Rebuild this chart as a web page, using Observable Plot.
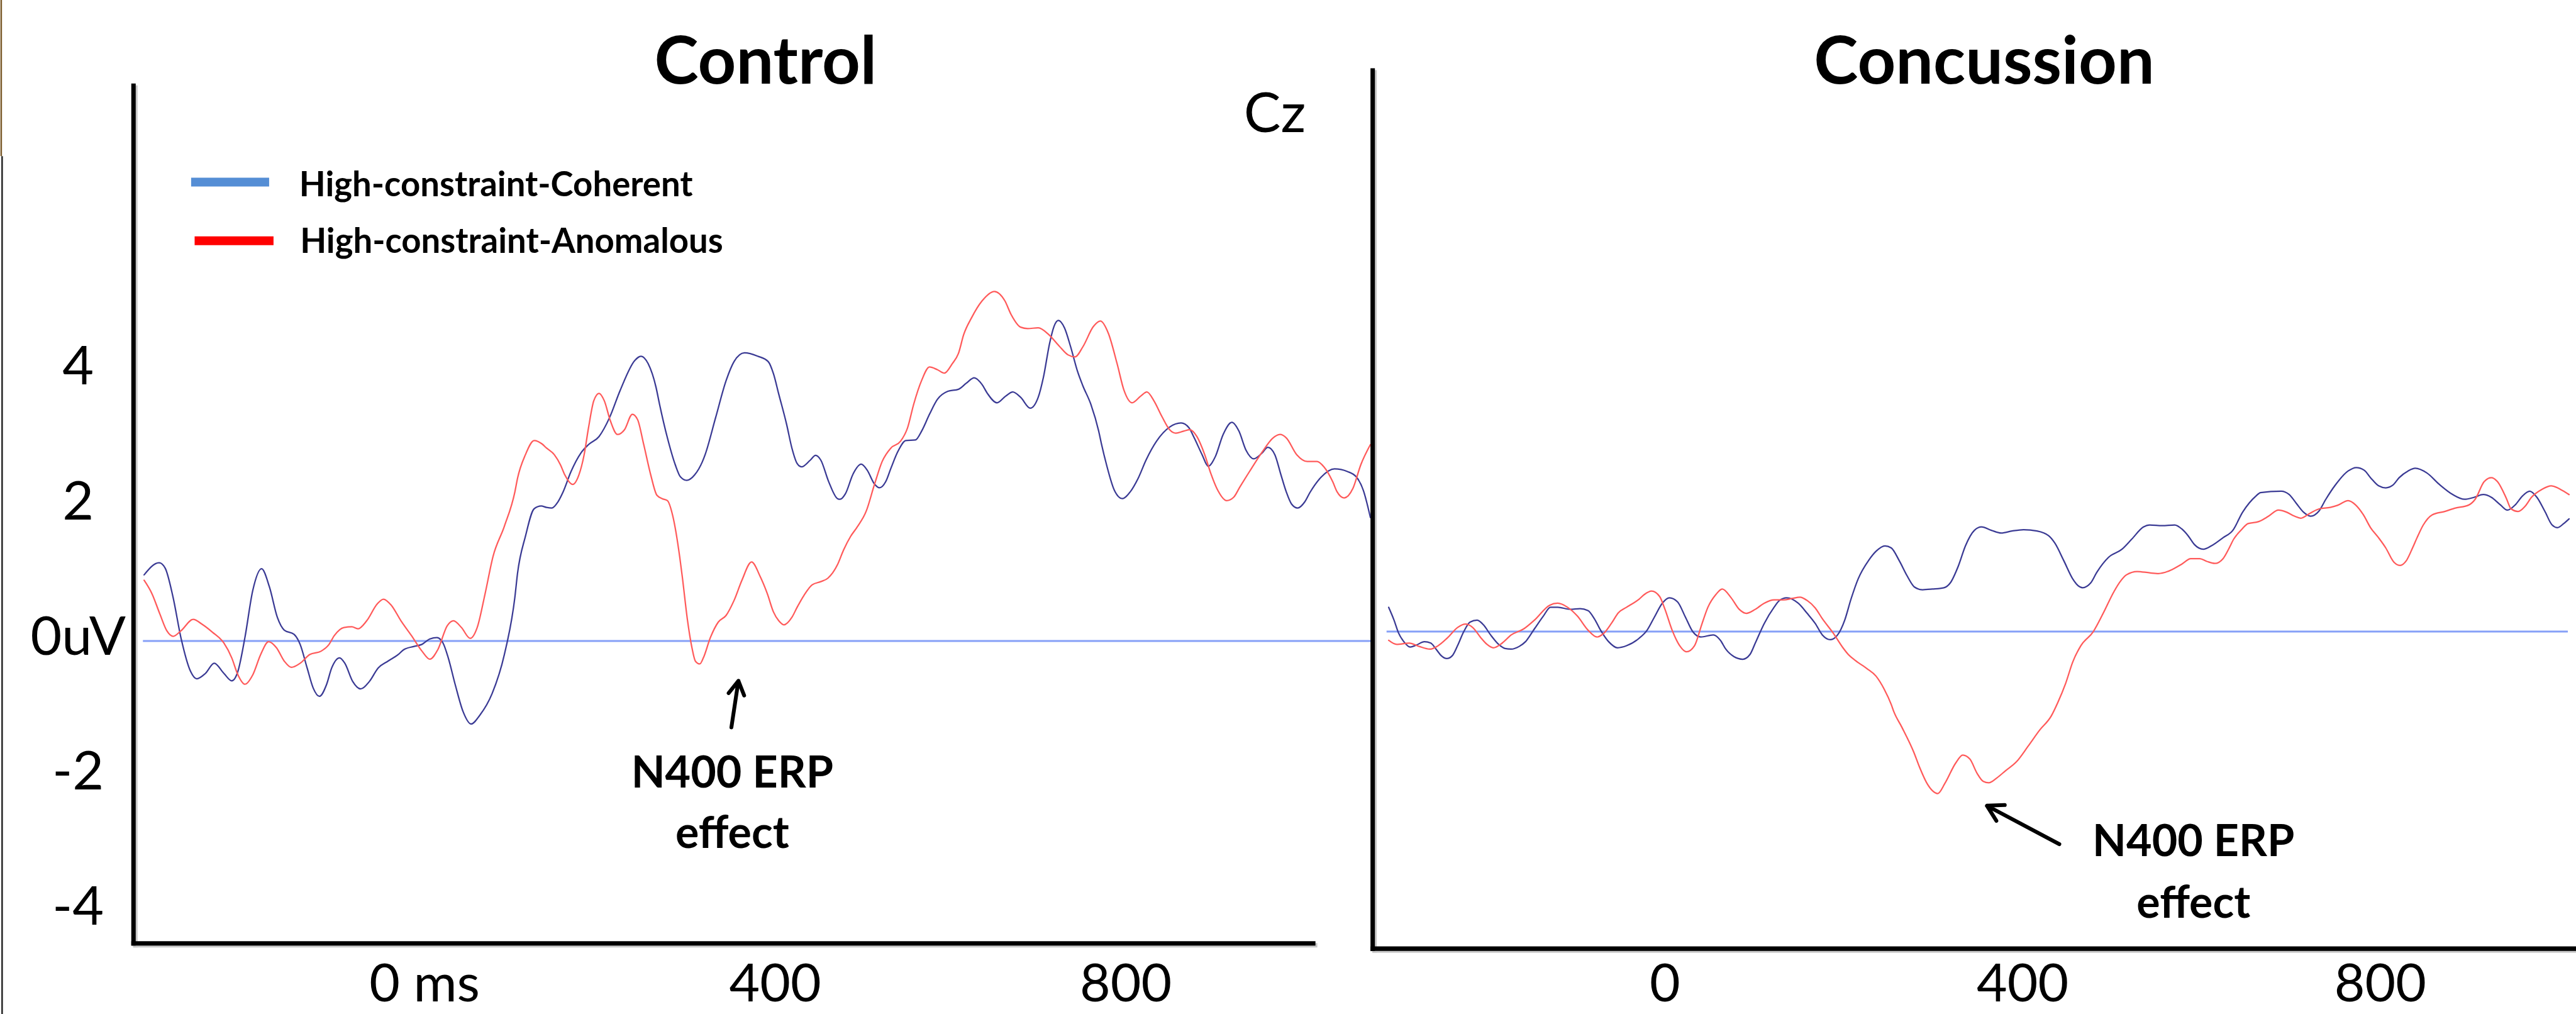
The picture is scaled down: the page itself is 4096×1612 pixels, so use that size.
<!DOCTYPE html>
<html><head><meta charset="utf-8">
<script src="https://cdn.jsdelivr.net/npm/d3@7"></script>
<script src="https://cdn.jsdelivr.net/npm/@observablehq/plot@0.6"></script>
<style>
html,body{margin:0;padding:0;background:#fff;}
#wrap{position:relative;width:4096px;height:1612px;overflow:hidden;background:#fff;}
#wrap > svg{position:absolute;top:0;}
</style></head><body><div id="wrap"></div>
<script>
// ---------- data (time in ms, amplitude in µV) ----------
const seriesNames = ["High-constraint-Coherent", "High-constraint-Anomalous"];
const lineColors = ["#3a3a94", "#ff5a5a"];
const legendColors = ["#558ed5", "#ff0000"];
const panelTitles = ["Control", "Concussion"];
const electrode = "Cz";
const annotationLines = ["N400 ERP", "effect"];
const yTicks = [4, 2, 0, -2, -4];
const xTicks = [0, 400, 800];

const controlCoherent = [[-320,0.98],[-303,1.16],[-296,1.08],[-287,0.65],[-278,0.05],[-267,-0.45],[-260,-0.56],[-250,-0.48],[-240,-0.33],[-229,-0.48],[-220,-0.59],[-213,-0.45],[-205,0.05],[-196,0.75],[-186,1.07],[-177,0.80],[-168,0.35],[-160,0.16],[-149,0.10],[-142,-0.05],[-134,-0.40],[-127,-0.70],[-120,-0.82],[-112,-0.65],[-106,-0.40],[-97,-0.25],[-91,-0.33],[-82,-0.60],[-73,-0.71],[-63,-0.60],[-53,-0.40],[-42,-0.30],[-30,-0.20],[-24,-0.13],[-12,-0.08],[-3,-0.05],[6,0.03],[14,0.05],[21,-0.03],[27,-0.25],[35,-0.65],[44,-1.05],[53,-1.23],[63,-1.10],[77,-0.78],[91,-0.20],[103,0.65],[106,1.00],[115,1.55],[125,1.96],[133,2.00],[139,1.98],[145,1.97],[152,2.06],[158,2.21],[167,2.51],[178,2.78],[187,2.91],[199,3.03],[211,3.31],[223,3.71],[240,4.16],[247,4.22],[255,4.11],[264,3.76],[268,3.51],[277,3.01],[286,2.61],[292,2.43],[299,2.38],[308,2.46],[317,2.66],[320,2.76],[332,3.31],[344,3.86],[353,4.14],[365,4.27],[380,4.22],[392,4.14],[398,3.96],[404,3.66],[413,3.21],[419,2.86],[425,2.63],[430,2.58],[440,2.68],[446,2.75],[452,2.68],[461,2.36],[471,2.11],[474,2.10],[480,2.18],[489,2.48],[498,2.62],[505,2.53],[513,2.33],[519,2.27],[526,2.36],[532,2.56],[540,2.81],[549,2.97],[560,2.98],[567,3.11],[576,3.36],[585,3.58],[597,3.70],[609,3.73],[618,3.82],[627,3.90],[636,3.80],[642,3.67],[653,3.53],[663,3.63],[671,3.69],[680,3.61],[691,3.45],[700,3.61],[706,3.91],[713,4.41],[718,4.66],[723,4.75],[730,4.64],[737,4.36],[745,3.99],[751,3.78],[760,3.51],[769,3.11],[772,2.93],[778,2.61],[787,2.23],[796,2.11],[805,2.21],[814,2.41],[823,2.68],[835,2.96],[850,3.17],[863,3.23],[872,3.16],[878,3.01],[887,2.76],[894,2.59],[902,2.73],[911,3.06],[921,3.24],[929,3.11],[937,2.83],[946,2.70],[955,2.78],[962,2.87],[970,2.76],[977,2.46],[983,2.21],[989,2.03],[996,1.97],[1004,2.06],[1010,2.20],[1023,2.43],[1038,2.55],[1053,2.51],[1063,2.43],[1071,2.23],[1079,1.83]];

const controlAnomalous = [[-320,0.90],[-311,0.70],[-302,0.40],[-294,0.15],[-287,0.07],[-278,0.15],[-264,0.32],[-254,0.25],[-242,0.13],[-229,-0.03],[-220,-0.25],[-213,-0.50],[-205,-0.64],[-196,-0.50],[-187,-0.20],[-178,-0.01],[-169,-0.10],[-160,-0.30],[-152,-0.39],[-142,-0.33],[-131,-0.20],[-118,-0.15],[-109,-0.05],[-103,0.08],[-92,0.20],[-83,0.21],[-76,0.18],[-66,0.30],[-54,0.55],[-47,0.62],[-38,0.53],[-27,0.30],[-15,0.08],[-3,-0.15],[6,-0.27],[15,-0.13],[26,0.23],[33,0.30],[42,0.20],[52,0.04],[60,0.20],[69,0.70],[78,1.25],[91,1.70],[103,2.21],[106,2.41],[115,2.76],[125,2.97],[134,2.92],[139,2.86],[148,2.76],[155,2.61],[160,2.46],[169,2.32],[176,2.46],[182,2.76],[187,3.16],[193,3.56],[199,3.67],[205,3.56],[212,3.26],[220,3.06],[228,3.13],[237,3.36],[243,3.28],[250,2.91],[258,2.46],[265,2.16],[271,2.11],[277,2.08],[283,1.86],[291,1.25],[294,0.95],[300,0.30],[305,-0.10],[309,-0.30],[314,-0.34],[318,-0.25],[326,0.05],[335,0.28],[344,0.38],[353,0.60],[362,0.90],[373,1.17],[383,0.95],[391,0.70],[398,0.43],[404,0.30],[410,0.24],[419,0.35],[425,0.50],[433,0.68],[442,0.83],[452,0.88],[460,0.93],[471,1.13],[478,1.35],[486,1.55],[493,1.68],[504,1.93],[513,2.31],[522,2.66],[532,2.86],[543,2.96],[551,3.16],[558,3.51],[567,3.86],[576,4.06],[585,4.02],[593,3.97],[602,4.11],[609,4.26],[615,4.54],[624,4.79],[636,5.04],[650,5.18],[662,5.04],[669,4.84],[680,4.65],[688,4.63],[700,4.64],[712,4.54],[724,4.37],[734,4.24],[742,4.21],[751,4.36],[763,4.66],[771,4.74],[780,4.56],[790,4.11],[798,3.71],[807,3.53],[817,3.63],[824,3.69],[832,3.56],[841,3.33],[850,3.13],[857,3.08],[866,3.11],[873,3.13],[881,3.03],[890,2.76],[897,2.48],[905,2.23],[915,2.08],[923,2.13],[930,2.28],[941,2.51],[956,2.81],[968,3.01],[976,3.06],[983,3.01],[995,2.76],[1007,2.66],[1018,2.66],[1026,2.58],[1036,2.36],[1041,2.21],[1049,2.12],[1059,2.26],[1068,2.61],[1079,2.91]];

const concussionCoherent = [[-309,0.36],[-303,0.17],[-298,-0.02],[-292,-0.15],[-285,-0.23],[-278,-0.20],[-269,-0.15],[-262,-0.17],[-256,-0.26],[-250,-0.36],[-244,-0.40],[-238,-0.36],[-232,-0.21],[-225,0.00],[-218,0.14],[-210,0.17],[-203,0.10],[-195,-0.05],[-186,-0.19],[-179,-0.25],[-172,-0.26],[-163,-0.22],[-156,-0.15],[-146,0.04],[-136,0.23],[-128,0.36],[-120,0.36],[-106,0.33],[-95,0.34],[-86,0.31],[-79,0.19],[-72,0.02],[-63,-0.15],[-53,-0.24],[-43,-0.21],[-29,-0.10],[-20,0.02],[-12,0.21],[-3,0.42],[5,0.50],[14,0.44],[23,0.21],[31,0.00],[40,-0.08],[54,-0.05],[62,-0.13],[68,-0.26],[77,-0.37],[87,-0.41],[95,-0.34],[101,-0.17],[111,0.12],[122,0.36],[128,0.46],[136,0.50],[149,0.42],[159,0.27],[168,0.12],[176,-0.05],[185,-0.12],[193,-0.05],[201,0.17],[208,0.48],[216,0.78],[228,1.06],[236,1.19],[246,1.27],[253,1.24],[262,1.05],[271,0.82],[279,0.66],[288,0.62],[299,0.63],[312,0.65],[319,0.72],[328,0.97],[336,1.27],[346,1.50],[354,1.55],[365,1.50],[376,1.46],[388,1.49],[401,1.51],[416,1.49],[429,1.42],[436,1.31],[446,1.05],[456,0.78],[462,0.68],[467,0.65],[476,0.72],[483,0.88],[496,1.10],[511,1.22],[522,1.37],[535,1.55],[542,1.58],[556,1.57],[570,1.58],[578,1.52],[585,1.42],[592,1.29],[602,1.22],[611,1.27],[624,1.39],[635,1.50],[646,1.77],[661,2.01],[666,2.06],[689,2.08],[698,2.03],[706,1.90],[714,1.77],[722,1.71],[731,1.78],[739,1.96],[749,2.16],[764,2.38],[773,2.43],[782,2.39],[789,2.28],[798,2.16],[806,2.13],[814,2.17],[821,2.28],[831,2.38],[839,2.42],[852,2.35],[866,2.18],[881,2.03],[894,1.96],[905,1.99],[915,2.03],[924,1.99],[934,1.88],[942,1.80],[951,1.88],[959,2.01],[967,2.08],[975,1.99],[984,1.78],[992,1.58],[998,1.54],[1005,1.60],[1011,1.67]];

const concussionAnomalous = [[-309,-0.13],[-300,-0.19],[-286,-0.17],[-275,-0.22],[-263,-0.26],[-255,-0.22],[-243,-0.09],[-232,0.06],[-223,0.11],[-215,0.06],[-206,-0.09],[-199,-0.19],[-192,-0.24],[-182,-0.17],[-172,-0.05],[-158,0.04],[-146,0.17],[-129,0.39],[-120,0.42],[-109,0.36],[-98,0.23],[-86,0.02],[-76,-0.08],[-68,-0.02],[-60,0.12],[-52,0.28],[-43,0.36],[-29,0.48],[-23,0.55],[-15,0.60],[-6,0.52],[0,0.33],[8,0.02],[17,-0.22],[24,-0.30],[33,-0.21],[41,0.10],[48,0.36],[57,0.55],[64,0.63],[74,0.50],[83,0.33],[91,0.27],[101,0.33],[111,0.42],[122,0.47],[133,0.47],[142,0.49],[151,0.51],[159,0.46],[168,0.35],[176,0.19],[188,-0.02],[199,-0.24],[205,-0.34],[213,-0.43],[226,-0.55],[236,-0.66],[245,-0.85],[253,-1.08],[256,-1.19],[265,-1.42],[278,-1.78],[285,-2.02],[293,-2.25],[305,-2.40],[313,-2.25],[325,-1.95],[333,-1.83],[341,-1.89],[349,-2.10],[356,-2.22],[362,-2.24],[371,-2.17],[381,-2.06],[393,-1.93],[406,-1.70],[419,-1.46],[432,-1.25],[439,-1.06],[448,-0.77],[456,-0.45],[465,-0.21],[479,0.00],[490,0.27],[502,0.59],[509,0.74],[516,0.84],[528,0.89],[542,0.87],[552,0.86],[562,0.89],[570,0.94],[578,1.00],[588,1.08],[598,1.08],[606,1.04],[615,1.01],[624,1.08],[631,1.24],[636,1.37],[644,1.50],[652,1.60],[664,1.63],[675,1.71],[686,1.80],[695,1.77],[704,1.71],[711,1.68],[721,1.75],[732,1.82],[744,1.84],[752,1.87],[764,1.94],[772,1.88],[781,1.73],[789,1.54],[798,1.39],[806,1.24],[815,1.03],[822,0.98],[829,1.05],[836,1.24],[841,1.39],[848,1.58],[858,1.73],[872,1.78],[884,1.83],[898,1.87],[906,1.96],[916,2.22],[924,2.28],[931,2.22],[941,1.97],[946,1.82],[954,1.78],[962,1.86],[969,1.99],[981,2.11],[991,2.16],[1001,2.11],[1011,2.03]];

// ---------- layout ----------
const S = 0.937;
const H = 1612;
const FONT = "Lato, 'Open Sans', sans-serif";
const wrap = document.getElementById("wrap");
const axisStroke = 7.5 * S;
const baseColor = "#86a0f7";
const tickFont = 84;

function frames() {
  return [
    Plot.frame({anchor: "left", stroke: "#c9c9c9", strokeWidth: axisStroke, dx: 3, dy: 3}),
    Plot.frame({anchor: "bottom", stroke: "#c9c9c9", strokeWidth: axisStroke, dx: 3, dy: 3}),
    Plot.frame({anchor: "left", stroke: "#000", strokeWidth: axisStroke}),
    Plot.frame({anchor: "bottom", stroke: "#000", strokeWidth: axisStroke})
  ];
}
function traces(a, b, x1, x2) {
  return [
    Plot.ruleY([0], {x1, x2, stroke: baseColor, strokeWidth: 3 * S}),
    Plot.line(a, {x: d => d[0], y: d => d[1], stroke: lineColors[0], strokeWidth: 2.4 * S, curve: "monotone-x"}),
    Plot.line(b, {x: d => d[0], y: d => d[1], stroke: lineColors[1], strokeWidth: 2.4 * S, curve: "monotone-x"})
  ];
}
function annot(t, v1, v2, tArrow1, vArrow1, tArrow2, vArrow2, size) {
  return [
    Plot.text([annotationLines[0]], {x: t, y: v1, text: d => d, fontSize: size, fontWeight: "bold", lineAnchor: "bottom", textAnchor: "middle"}),
    Plot.text([annotationLines[1]], {x: t, y: v2, text: d => d, fontSize: size, fontWeight: "bold", lineAnchor: "bottom", textAnchor: "middle"}),
    Plot.arrow([0], {x1: tArrow1, y1: vArrow1, x2: tArrow2, y2: vArrow2, stroke: "#000", strokeWidth: 6.5 * S, headLength: 7, headAngle: 60})
  ];
}

// Left panel: Control
const leftW = Math.round(2340 * S);
const left = Plot.plot({
  width: leftW, height: H,
  marginLeft: 226 * S, marginTop: 145 * S, marginBottom: H - 1600 * S, marginRight: leftW - 2228 * S,
  style: {background: "transparent", overflow: "visible", fontFamily: FONT, color: "#000"},
  x: {domain: [0, 800], range: [720 * S, 1910 * S]},
  y: {domain: [0, 4], range: [1087 * S, (1087 - 458) * S]},
  marks: [
    // thin border remnant at the far left edge
    Plot.ruleX([-483], {y1: 9.5, y2: 7.18, stroke: "#7a5a2a", strokeWidth: 2.5}),
    Plot.ruleX([-482], {y1: 7.18, y2: -5.6, stroke: "#222", strokeWidth: 2.5}),
    ...frames(),
    ...traces(controlCoherent, controlAnomalous, -321, 1082),
    Plot.axisX({ticks: xTicks, tickSize: 0, tickPadding: 35 * S, fontSize: tickFont, tickFormat: d => d === 0 ? "0 ms" : String(d)}),
    Plot.axisY({ticks: yTicks, tickSize: 0, tickPadding: 0, fontSize: 86, textAnchor: "middle", dx: (132 - 226) * S, dy: -6, tickFormat: d => d === 0 ? "0uV" : String(d)}),
    Plot.text([panelTitles[0]], {x: 389, y: 8.26, text: d => d, fontSize: 106, fontWeight: "bold", lineAnchor: "bottom", textAnchor: "middle"}),
    Plot.text([electrode], {x: 970, y: 7.54, text: d => d, fontSize: 88, lineAnchor: "bottom", textAnchor: "middle"}),
    // legend
    Plot.ruleY([6.80], {x1: -266, x2: -177, stroke: legendColors[0], strokeWidth: 15 * S}),
    Plot.ruleY([5.93], {x1: -262, x2: -172, stroke: legendColors[1], strokeWidth: 15 * S}),
    Plot.text([seriesNames[0]], {x: -143, y: 6.59, text: d => d, fontSize: 54.5, fontWeight: "bold", lineAnchor: "bottom", textAnchor: "start"}),
    Plot.text([seriesNames[1]], {x: -142, y: 5.75, text: d => d, fontSize: 54.5, fontWeight: "bold", lineAnchor: "bottom", textAnchor: "start"}),
    ...annot(351, -2.17, -3.07, 350, -1.28, 358, -0.59, 70)
  ]
});
left.style.left = "0px";
wrap.appendChild(left);

// Right panel: Concussion
const rightX0 = 2300;
const rightW = Math.round((4369 - rightX0) * S) + 2;
const right = Plot.plot({
  width: rightW, height: H,
  marginLeft: (2329 - rightX0) * S, marginTop: 119 * S, marginBottom: H - 1609 * S, marginRight: 0,
  style: {background: "transparent", overflow: "visible", fontFamily: FONT, color: "#000"},
  x: {domain: [0, 800], range: [(2825 - rightX0) * S, (4039 - rightX0) * S]},
  y: {domain: [0, 4], range: [1071 * S, (1071 - 458) * S], axis: null},
  marks: [
    ...frames(),
    ...traces(concussionCoherent, concussionAnomalous, -311, 1010),
    Plot.axisX({ticks: xTicks, tickSize: 0, tickPadding: 26 * S, fontSize: tickFont, tickFormat: d => String(d)}),
    Plot.text([panelTitles[1]], {x: 357, y: 8.12, text: d => d, fontSize: 106, fontWeight: "bold", lineAnchor: "bottom", textAnchor: "middle"}),
    ...annot(591, -3.33, -4.24, 441, -3.15, 360, -2.58, 70)
  ]
});
right.style.left = Math.round(rightX0 * S) + "px";
wrap.appendChild(right);
</script>
</body></html>
